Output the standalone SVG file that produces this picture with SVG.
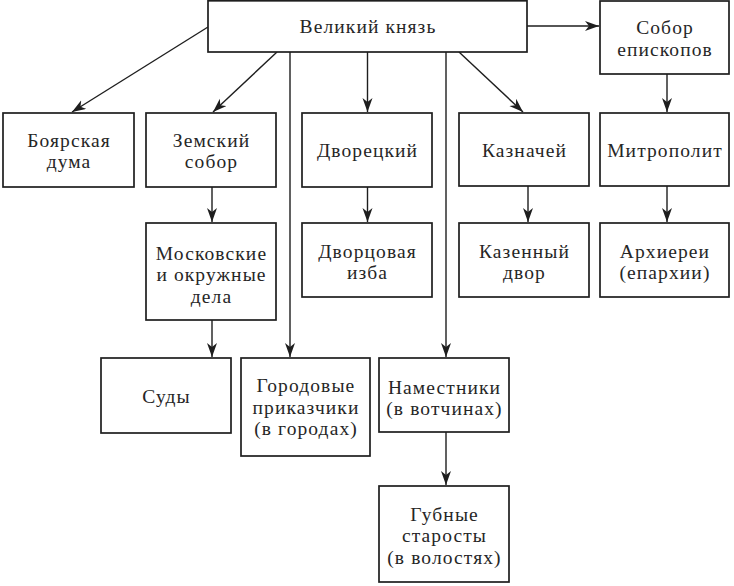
<svg xmlns="http://www.w3.org/2000/svg" width="734" height="586" viewBox="0 0 734 586">
<defs>
<style>
.box{fill:#fff;stroke:#1e1e1e;stroke-width:1.7}
.t{font-family:'Liberation Serif','DejaVu Serif',serif;font-size:19.5px;letter-spacing:1.1px;fill:#262626;text-anchor:middle}
.c{fill:none;stroke:#1e1e1e;stroke-width:1.4}
</style>
<marker id="ah" markerUnits="userSpaceOnUse" markerWidth="15" markerHeight="11" refX="14" refY="5" orient="auto">
<path d="M0,0 L14,5 L0,10 L4,5 z" fill="#1e1e1e"/>
</marker>
</defs>
<rect width="734" height="586" fill="#fff"/>
<g id="connectors">
<line class="c" x1="208" y1="27" x2="72" y2="112" marker-end="url(#ah)"/>
<line class="c" x1="277" y1="52" x2="213" y2="112" marker-end="url(#ah)"/>
<line class="c" x1="459" y1="52" x2="523" y2="112" marker-end="url(#ah)"/>
<line class="c" x1="527" y1="26" x2="599" y2="26" marker-end="url(#ah)"/>
<line class="c" x1="290" y1="52" x2="290" y2="357" marker-end="url(#ah)"/>
<line class="c" x1="367.5" y1="52" x2="367.5" y2="112" marker-end="url(#ah)"/>
<line class="c" x1="446" y1="52" x2="446" y2="357" marker-end="url(#ah)"/>
<line class="c" x1="667" y1="74" x2="667" y2="112" marker-end="url(#ah)"/>
<line class="c" x1="212" y1="187" x2="212" y2="222" marker-end="url(#ah)"/>
<line class="c" x1="212" y1="320" x2="212" y2="357" marker-end="url(#ah)"/>
<line class="c" x1="367.5" y1="187" x2="367.5" y2="222" marker-end="url(#ah)"/>
<line class="c" x1="528" y1="186" x2="528" y2="222" marker-end="url(#ah)"/>
<line class="c" x1="667" y1="186" x2="667" y2="222" marker-end="url(#ah)"/>
<line class="c" x1="446" y1="432" x2="446" y2="485" marker-end="url(#ah)"/>
</g>
<g id="velikiy-knyaz"><rect class="box" x="208" y="0.8" width="319" height="51.2"/><text class="t" x="368" y="33">Великий князь</text></g>
<g id="sobor-episkopov"><rect class="box" x="600" y="1" width="129" height="73"/><text class="t" x="665" y="34">Собор</text><text class="t" x="665" y="55.5">епископов</text></g>
<g id="boyarskaya-duma"><rect class="box" x="3" y="113" width="131" height="74"/><text class="t" x="69" y="146.5">Боярская</text><text class="t" x="69" y="168">дума</text></g>
<g id="zemsky-sobor"><rect class="box" x="146" y="113" width="130" height="74"/><text class="t" x="211.5" y="146.5">Земский</text><text class="t" x="211.5" y="168">собор</text></g>
<g id="dvoretsky"><rect class="box" x="302" y="113" width="130" height="74"/><text class="t" x="367.5" y="157">Дворецкий</text></g>
<g id="kaznachei"><rect class="box" x="459" y="113" width="130" height="73"/><text class="t" x="524.5" y="157">Казначей</text></g>
<g id="mitropolit"><rect class="box" x="600" y="113" width="129" height="73"/><text class="t" x="665" y="157">Митрополит</text></g>
<g id="moskovskie-dela"><rect class="box" x="146" y="223" width="130" height="97"/><text class="t" x="211.5" y="259.5">Московские</text><text class="t" x="211.5" y="281">и окружные</text><text class="t" x="211.5" y="302.5">дела</text></g>
<g id="dvortsovaya-izba"><rect class="box" x="302" y="223" width="130" height="74"/><text class="t" x="367.5" y="257.5">Дворцовая</text><text class="t" x="367.5" y="279">изба</text></g>
<g id="kazenny-dvor"><rect class="box" x="459" y="223" width="130" height="74"/><text class="t" x="524.5" y="257.5">Казенный</text><text class="t" x="524.5" y="279">двор</text></g>
<g id="arhierei"><rect class="box" x="600" y="223" width="129" height="74"/><text class="t" x="665" y="257.5">Архиереи</text><text class="t" x="665" y="279">(епархии)</text></g>
<g id="sudy"><rect class="box" x="101" y="358" width="130" height="75"/><text class="t" x="166.5" y="403">Суды</text></g>
<g id="gorodovye-prikazchiki"><rect class="box" x="241" y="358" width="129" height="98"/><text class="t" x="306" y="392">Городовые</text><text class="t" x="306" y="413.5">приказчики</text><text class="t" x="306" y="435">(в городах)</text></g>
<g id="namestniki"><rect class="box" x="379" y="358" width="130" height="74"/><text class="t" x="444.5" y="393.5">Наместники</text><text class="t" x="444.5" y="415">(в вотчинах)</text></g>
<g id="gubnye-starosty"><rect class="box" x="379" y="486" width="130" height="96"/><text class="t" x="444.5" y="520.5">Губные</text><text class="t" x="444.5" y="542">старосты</text><text class="t" x="444.5" y="563.5">(в волостях)</text></g>
</svg>
